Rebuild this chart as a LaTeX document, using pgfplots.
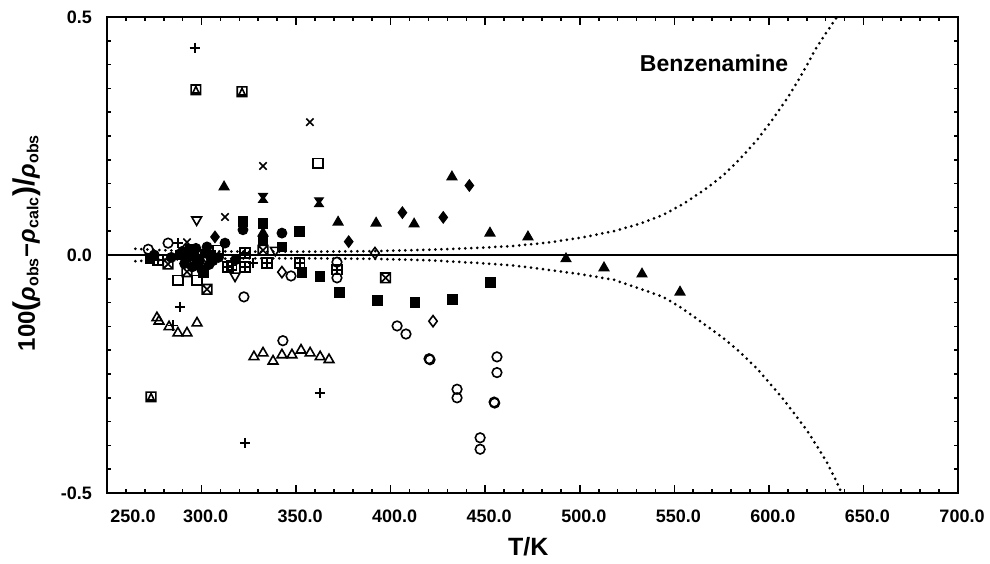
\documentclass[border=0pt]{standalone}
\usepackage{fontspec}
\setmainfont{Liberation Sans}
\usepackage{pgfplots}
\pgfplotsset{compat=1.18}

\pgfdeclareplotmark{squarex}{%
 \pgfpathrectangle{\pgfqpoint{-\pgfplotmarksize}{-\pgfplotmarksize}}{\pgfqpoint{2\pgfplotmarksize}{2\pgfplotmarksize}}%
 \pgfpathmoveto{\pgfqpoint{-\pgfplotmarksize}{-\pgfplotmarksize}}%
 \pgfpathlineto{\pgfqpoint{\pgfplotmarksize}{\pgfplotmarksize}}%
 \pgfpathmoveto{\pgfqpoint{-\pgfplotmarksize}{\pgfplotmarksize}}%
 \pgfpathlineto{\pgfqpoint{\pgfplotmarksize}{-\pgfplotmarksize}}%
 \pgfusepathqstroke}
\pgfdeclareplotmark{squareplus}{%
 \pgfpathrectangle{\pgfqpoint{-\pgfplotmarksize}{-\pgfplotmarksize}}{\pgfqpoint{2\pgfplotmarksize}{2\pgfplotmarksize}}%
 \pgfpathmoveto{\pgfqpoint{0pt}{-\pgfplotmarksize}}%
 \pgfpathlineto{\pgfqpoint{0pt}{\pgfplotmarksize}}%
 \pgfpathmoveto{\pgfqpoint{-\pgfplotmarksize}{0pt}}%
 \pgfpathlineto{\pgfqpoint{\pgfplotmarksize}{0pt}}%
 \pgfusepathqstroke}
\pgfdeclareplotmark{squaretri}{%
 \pgfpathrectangle{\pgfqpoint{-\pgfplotmarksize}{-\pgfplotmarksize}}{\pgfqpoint{2\pgfplotmarksize}{2\pgfplotmarksize}}%
 \pgfpathmoveto{\pgfqpoint{-0.65\pgfplotmarksize}{-0.65\pgfplotmarksize}}%
 \pgfpathlineto{\pgfqpoint{0.65\pgfplotmarksize}{-0.65\pgfplotmarksize}}%
 \pgfpathlineto{\pgfqpoint{0pt}{0.7\pgfplotmarksize}}%
 \pgfpathclose
 \pgfusepathqstroke}
\pgfdeclareplotmark{bowtie}{%
 \pgfpathmoveto{\pgfqpoint{-\pgfplotmarksize}{\pgfplotmarksize}}%
 \pgfpathlineto{\pgfqpoint{\pgfplotmarksize}{\pgfplotmarksize}}%
 \pgfpathlineto{\pgfqpoint{0.3\pgfplotmarksize}{0pt}}%
 \pgfpathlineto{\pgfqpoint{\pgfplotmarksize}{-\pgfplotmarksize}}%
 \pgfpathlineto{\pgfqpoint{-\pgfplotmarksize}{-\pgfplotmarksize}}%
 \pgfpathlineto{\pgfqpoint{-0.3\pgfplotmarksize}{0pt}}%
 \pgfpathclose
 \pgfusepathqfillstroke}

\begin{document}
\begin{tikzpicture}
\begin{axis}[name=ax, scale only axis, width=425.5pt, height=238pt,
 xmin=250, xmax=700, ymin=-0.5, ymax=0.5,
 xtick={250,300,350,400,450,500,550,600,650,700},
 xticklabels={\hspace{22pt}250.0,300.0,350.0,400.0,450.0,500.0,550.0,600.0,650.0,700.0},
 minor x tick num=4,
 ytick={-0.5,0,0.5}, yticklabels={-0.5,0.0,0.5},
 minor y tick num=9,
 tick align=inside, major tick length=4pt, minor tick length=2pt,
 every tick/.style={black, line width=0.8pt},
 axis line style={line width=1.3pt},
 tick label style={font=\fontsize{9}{10}\selectfont\bfseries},
 xticklabel style={anchor=north, yshift=-5pt, xshift=2pt},
 yticklabel style={anchor=east, xshift=-4pt},
 xlabel={T/K},
 xlabel style={at={(axis description cs:0.495,-0.113)}, anchor=center, font=\fontsize{12.5}{14}\selectfont\bfseries},
 ylabel={100{\fontsize{15}{15}\selectfont(}\textit{ρ}\textsubscript{obs}−\textit{ρ}\textsubscript{calc}{\fontsize{15}{15}\selectfont)}{\fontsize{15}{15}\selectfont/}\textit{ρ}\textsubscript{obs}},
 ylabel style={at={(axis description cs:-0.094,0.526)}, anchor=center, font=\fontsize{12}{14}\selectfont\bfseries},
 every axis plot/.append style={black},
 mark size=2.4pt,
]
% zero line
\addplot[line width=1pt, no marks] coordinates {(250,0) (700,0)};
% uncertainty curves
\addplot[no marks, line width=1.5pt, line cap=round, dash pattern=on 0pt off 3pt] coordinates {
(265,0.013) (280,0.010) (300,0.008) (330,0.007) (360,0.007) (390,0.008) (420,0.011) (447,0.015) (465,0.019) (483,0.026) (500,0.036) (518,0.050) (532,0.066) (544,0.084) (555,0.108) (567,0.140) (576,0.168) (585,0.203) (594,0.243) (602,0.285) (609,0.325) (615,0.363) (620,0.398) (625,0.435) (630,0.465) (636,0.5)};
\addplot[no marks, line width=1.5pt, line cap=round, dash pattern=on 0pt off 3pt] coordinates {
(265,-0.013) (280,-0.010) (300,-0.008) (330,-0.007) (360,-0.007) (390,-0.008) (420,-0.011) (447,-0.017) (465,-0.022) (483,-0.031) (500,-0.040) (518,-0.052) (532,-0.071) (544,-0.088) (553,-0.109) (564,-0.14) (576,-0.175) (585,-0.205) (594,-0.240) (601,-0.272) (608,-0.305) (614,-0.336) (620,-0.368) (626,-0.405) (631,-0.438) (635,-0.47) (638.5,-0.5)};
% plus
\addplot[only marks, mark=+, mark options={line width=0.8pt}, mark size=2.6pt] coordinates {
(296.5,0.435) (288.6,-0.109) (323.0,-0.395) (362.6,-0.290) (287.5,0.025) (298.0,0.010) (327.2,-0.017) (285.0,-0.148)};
% x
\addplot[only marks, mark=x, mark options={line width=0.8pt}, mark size=2.6pt] coordinates {
(357.3,0.279) (332.5,0.187) (312.4,0.080) (292.3,0.027)};
% open circles
\addplot[only marks, mark=o, mark options={line width=0.8pt}] coordinates {
(271.8,0.012) (282.3,0.025) (322.4,-0.088) (343.0,-0.180) (347.3,-0.044) (371.6,-0.015) (371.6,-0.048)
(403.4,-0.149) (408.1,-0.166) (420.3,-0.218) (420.8,-0.220) (435.1,-0.282) (435.1,-0.300) (447.3,-0.384) (447.3,-0.408)
(454.7,-0.309) (455.0,-0.311) (456.2,-0.214) (456.2,-0.247)};
% filled circles
\addplot[only marks, mark=*, mark options={line width=0.6pt}] coordinates {
(321.9,0.053) (342.5,0.046) (312.4,0.025) (302.9,0.017)
(290,0.008) (293,-0.005) (296,0.002) (299,-0.012) (302,0.004) (304,-0.020) (295,-0.025) (300,-0.030)
(306,-0.012) (291,-0.018) (297,0.014) (309,-0.005) (318,-0.010) (275,0.0) (284,-0.005)};
% filled squares
\addplot[only marks, mark=square*, mark options={line width=0.6pt}] coordinates {
(321.9,0.071) (332.5,0.067) (332.5,0.030) (342.5,0.017) (352.0,0.050) (353.1,-0.036) (362.6,-0.046)
(372.9,-0.078) (392.9,-0.095) (412.9,-0.099) (432.8,-0.093) (452.9,-0.057)
(272.7,-0.007) (289,0.0) (294,0.012) (298,-0.020) (305,0.0) (301,-0.036)};
% filled triangles
\addplot[only marks, mark=triangle*, mark options={line width=0.6pt}, mark size=2.8pt] coordinates {
(311.9,0.143) (332.5,0.046) (372.2,0.069) (392.3,0.067) (412.4,0.065) (432.4,0.164) (452.5,0.046)
(472.6,0.038) (492.7,-0.008) (512.8,-0.027) (532.9,-0.040) (553.0,-0.078)};
% open triangles
\addplot[only marks, mark=triangle, mark options={line width=0.8pt}, mark size=2.8pt] coordinates {
(276.4,-0.132) (277.5,-0.139) (282.8,-0.151) (287.5,-0.164) (292.3,-0.164) (297.6,-0.143)
(327.7,-0.214) (332.5,-0.206) (337.8,-0.223) (342.5,-0.210) (347.8,-0.210) (352.6,-0.200) (357.4,-0.206) (362.7,-0.214) (367.4,-0.220)};
% inverted open triangles
\addplot[only marks, mark=triangle, mark options={line width=0.8pt, rotate=180}, mark size=2.8pt] coordinates {
(297.4,0.074) (317.7,-0.044) (339.0,0.010)};
% open squares
\addplot[only marks, mark=square, mark options={line width=0.8pt}] coordinates {
(361.6,0.193) (287.5,-0.053) (297.6,-0.053) (308.7,0.010)};
% squares with x
\addplot[only marks, mark=squarex, mark options={line width=0.8pt}] coordinates {
(302.9,-0.072) (397.3,-0.048) (282.3,-0.019) (292.3,-0.035) (332.5,0.010)};
% squares with plus
\addplot[only marks, mark=squareplus, mark options={line width=0.8pt}] coordinates {
(277.0,-0.011) (314.0,-0.025) (323.0,0.004) (323.0,-0.025) (334.6,-0.017) (352.0,-0.017) (371.6,-0.031) (316.0,-0.022)};
% squares with triangle
\addplot[only marks, mark=squaretri, mark options={line width=0.8pt}] coordinates {
(297.0,0.347) (321.4,0.343) (273.3,-0.298)};
% bowties
\addplot[only marks, mark=bowtie, mark options={line width=0.5pt}, mark size=2.2pt] coordinates {
(332.5,0.120) (362.1,0.111)};
% open diamonds
\addplot[only marks, mark=diamond, mark options={line width=0.8pt}, mark size=2.8pt] coordinates {
(342.5,-0.036) (422.4,-0.139) (391.7,0.004)};
% filled diamonds
\addplot[only marks, mark=diamond*, mark options={line width=0.6pt}, mark size=2.8pt] coordinates {
(377.8,0.028) (406.2,0.089) (427.8,0.079) (441.6,0.146) (307.1,0.038)};
\node[font=\fontsize{11.5}{13}\selectfont\bfseries] at (axis cs:571,0.403) {Benzenamine};
\end{axis}
\pgfresetboundingbox
\path[use as bounding box] ([xshift=-53.5pt,yshift=-35pt]ax.south west) rectangle ([xshift=16pt,yshift=8.5pt]ax.north east);
\end{tikzpicture}
\end{document}
